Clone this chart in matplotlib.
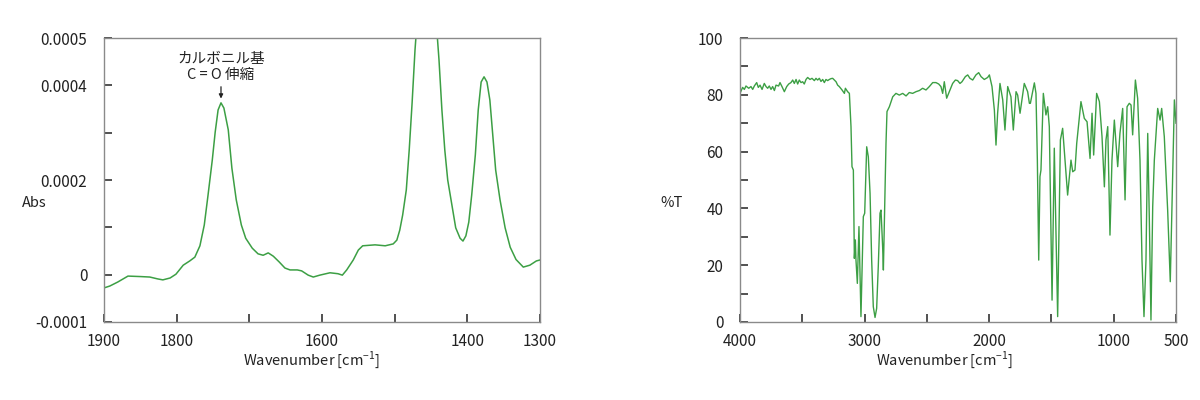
import numpy as np
import matplotlib
matplotlib.use("Agg")
import matplotlib.pyplot as plt

plt.rcParams["font.family"] = ["Noto Sans CJK JP", "DejaVu Sans"]

# left panel: absorbance spectrum (wavenumber, Abs)
abs_wn = [1900, 1892, 1881, 1867, 1850, 1837, 1826, 1819, 1809, 1801, 1791, 1782,
          1775, 1768, 1762, 1757, 1751, 1747, 1743, 1739, 1735, 1729, 1724, 1718,
          1711, 1705, 1696, 1688, 1681, 1674, 1667, 1659, 1651, 1644, 1634, 1628,
          1619, 1612, 1603, 1589, 1578, 1572, 1566, 1557, 1550, 1544, 1527, 1513,
          1502, 1497, 1493, 1489, 1484, 1480, 1476, 1472, 1469, 1457, 1443, 1439,
          1435, 1431, 1427, 1421, 1416, 1410, 1406, 1402, 1398, 1394, 1389, 1385,
          1381, 1377, 1373, 1369, 1365, 1361, 1355, 1348, 1341, 1333, 1323, 1314,
          1305, 1300]
abs_val = [-0.28, -0.24, -0.155, -0.03, -0.04, -0.05, -0.09, -0.11, -0.07, 0.01, 0.20, 0.29,
           0.37, 0.61, 1.05, 1.66, 2.42, 3.01, 3.48, 3.63, 3.52, 3.06, 2.25, 1.58,
           1.05, 0.77, 0.56, 0.44, 0.41, 0.46, 0.39, 0.27, 0.14, 0.10, 0.10, 0.08,
           -0.01, -0.05, -0.01, 0.04, 0.02, -0.01, 0.10, 0.31, 0.52, 0.61, 0.63, 0.61,
           0.65, 0.73, 0.94, 1.26, 1.79, 2.63, 3.63, 4.75, 5.38, 7.5, 5.38, 4.54,
           3.48, 2.63, 2.00, 1.45, 0.99, 0.77, 0.71, 0.82, 1.11, 1.68, 2.53, 3.48,
           4.07, 4.18, 4.07, 3.69, 2.95, 2.21, 1.58, 0.99, 0.58, 0.32, 0.16, 0.20,
           0.29, 0.31]
abs_val = np.array(abs_val) * 1e-4

# right panel: transmittance spectrum (wavenumber, %T)
t_wn = [4000, 3979, 3965, 3952, 3930, 3912, 3898, 3885, 3866, 3853, 3839, 3823,
        3805, 3791, 3778, 3765, 3751, 3738, 3724, 3711, 3690, 3679, 3663, 3644,
        3625, 3609, 3591, 3577, 3564, 3550, 3537, 3524, 3510, 3497, 3484, 3470,
        3457, 3438, 3422, 3403, 3390, 3377, 3363, 3350, 3336, 3323, 3310, 3296,
        3283, 3269, 3256, 3243, 3229, 3216, 3203, 3181, 3162, 3154, 3136, 3122,
        3109, 3101, 3090, 3082, 3074, 3069, 3058, 3045, 3029, 3010, 2999, 2983,
        2970, 2956, 2943, 2930, 2916, 2903, 2890, 2876, 2868, 2855, 2849, 2839,
        2828, 2820, 2801, 2774, 2748, 2721, 2694, 2667, 2641, 2614, 2587, 2560,
        2534, 2507, 2480, 2453, 2427, 2405, 2387, 2373, 2360, 2341, 2320, 2293,
        2271, 2253, 2234, 2218, 2191, 2172, 2154, 2132, 2106, 2084, 2065, 2039,
        2012, 1998, 1977, 1958, 1945, 1932, 1913, 1891, 1873, 1851, 1825, 1806,
        1784, 1771, 1752, 1718, 1691, 1677, 1669, 1637, 1624, 1613, 1602, 1592,
        1584, 1565, 1544, 1530, 1517, 1495, 1477, 1450, 1428, 1410, 1391, 1370,
        1343, 1329, 1311, 1297, 1263, 1236, 1214, 1190, 1174, 1161, 1137, 1115,
        1094, 1075, 1062, 1048, 1030, 1014, 995, 968, 950, 928, 909, 893,
        875, 861, 848, 826, 808, 789, 773, 757, 741, 727, 714, 701,
        687, 674, 647, 628, 615, 594, 567, 546, 527, 513, 500]
t_val = [80.5, 82.6, 81.9, 83.1, 82.3, 82.9, 81.9, 83.1, 84.3, 82.6, 83.4, 81.9,
         84.0, 82.9, 82.3, 83.1, 81.9, 82.9, 81.5, 83.4, 83.1, 84.3, 82.9, 81.1,
         82.9, 83.8, 84.3, 85.2, 84.0, 85.4, 83.8, 85.2, 84.3, 84.6, 83.8, 85.4,
         86.1, 85.4, 85.8, 85.0, 85.8, 85.2, 85.8, 84.7, 85.4, 84.3, 85.4, 85.0,
         85.4, 85.7, 85.8, 85.2, 84.6, 83.4, 82.9, 81.7, 80.5, 82.3, 81.1, 80.5,
         68.8, 54.7, 53.5, 22.4, 28.9, 21.8, 13.6, 33.6, 1.9, 37.1, 38.3, 61.7,
         58.2, 45.3, 21.8, 5.4, 1.6, 4.8, 19.5, 38.3, 39.4, 26.5, 18.3, 39.4,
         62.9, 74.1, 75.8, 79.3, 80.5, 79.9, 80.5, 79.6, 80.8, 80.5, 81.1, 81.5,
         82.3, 81.7, 82.9, 84.3, 84.3, 83.8, 82.9, 80.5, 84.6, 78.8, 81.1, 84.0,
         85.2, 85.0, 84.0, 84.6, 86.4, 87.0, 85.8, 85.2, 87.0, 87.8, 86.4, 85.4,
         86.1, 87.0, 82.9, 74.6, 62.3, 73.5, 84.0, 78.2, 67.6, 82.9, 79.3, 67.6,
         81.1, 79.9, 73.5, 84.0, 81.1, 77.0, 77.0, 84.2, 80.5, 57.0, 21.8, 51.2,
         53.5, 80.5, 72.9, 75.8, 68.8, 7.7, 61.2, 1.9, 64.1, 68.2, 57.0, 44.7,
         57.0, 52.9, 53.5, 62.9, 77.6, 71.7, 70.5, 57.6, 73.5, 58.8, 80.5, 77.6,
         65.3, 47.6, 64.1, 68.8, 30.6, 57.0, 71.1, 54.7, 66.4, 75.2, 43.0, 75.8,
         77.0, 76.4, 65.9, 85.2, 78.8, 57.0, 21.8, 1.9, 21.8, 66.4, 35.9, 0.7,
         40.6, 57.0, 75.2, 71.1, 75.2, 65.3, 39.4, 14.2, 51.2, 78.2, 70.0]

line_color = "#3c9f44"
spine_color = "#8a8a8a"
text_color = "#222222"

fig = plt.figure(figsize=(12, 4), dpi=100)
ax1 = fig.add_axes([104 / 1200, 1 - 322 / 400, 436 / 1200, 284 / 400])
ax2 = fig.add_axes([740 / 1200, 1 - 322 / 400, 436 / 1200, 284 / 400])

for ax in (ax1, ax2):
    for s in ax.spines.values():
        s.set_color(spine_color)
        s.set_linewidth(1.0)
    ax.tick_params(direction="in", length=6, width=1.2, color="#333333",
                   labelsize=11, labelcolor=text_color, top=False, right=False)
    ax.tick_params(axis="x", pad=8)
    ax.tick_params(axis="y", pad=12)

# left: absorbance
ax1.plot(abs_wn, abs_val, color=line_color, lw=1.1)
ax1.set_xlim(1900, 1300)
ax1.set_ylim(-0.0001, 0.0005)
ax1.set_xticks([1900, 1800, 1700, 1600, 1500, 1400, 1300])
ax1.set_xticklabels(["1900", "1800", "", "1600", "", "1400", "1300"])
ax1.set_yticks([-0.0001, 0, 0.0001, 0.0002, 0.0003, 0.0004, 0.0005])
ax1.set_yticklabels(["-0.0001", "0", "", "0.0002", "", "0.0004", "0.0005"])

ax1.text(1739, 0.000439, "カルボニル基\nC = O 伸縮", ha="center", va="center",
         fontsize=10.5, color=text_color, linespacing=1.25)
ax1.annotate("", xy=(1739, 0.000372), xytext=(1739, 0.000397),
             arrowprops=dict(arrowstyle="-|>", lw=0.9, color="#222222",
                             mutation_scale=6, shrinkA=0, shrinkB=0))

# right: transmittance
ax2.plot(t_wn, t_val, color=line_color, lw=1.0)
ax2.set_xlim(4000, 500)
ax2.set_ylim(0, 100)
ax2.set_xticks([4000, 3500, 3000, 2500, 2000, 1500, 1000, 500])
ax2.set_xticklabels(["4000", "", "3000", "", "2000", "", "1000", "500"])
ax2.set_yticks(np.arange(0, 101, 10))
ax2.set_yticklabels([str(v) if v % 20 == 0 else "" for v in range(0, 101, 10)])

xlabel = r"Wavenumber [cm$^{\mathregular{-1}}$]"
fig.text(312 / 1200, 1 - 360 / 400, xlabel, ha="center", va="center",
         fontsize=10.5, color=text_color)
fig.text(945 / 1200, 1 - 360 / 400, xlabel, ha="center", va="center",
         fontsize=10.5, color=text_color)
fig.text(22 / 1200, 1 - 203 / 400, "Abs", ha="left", va="center",
         fontsize=10.5, color=text_color)
fig.text(660 / 1200, 1 - 203 / 400, "%T", ha="left", va="center",
         fontsize=10.5, color=text_color)

fig.savefig("out.png", dpi=100)
